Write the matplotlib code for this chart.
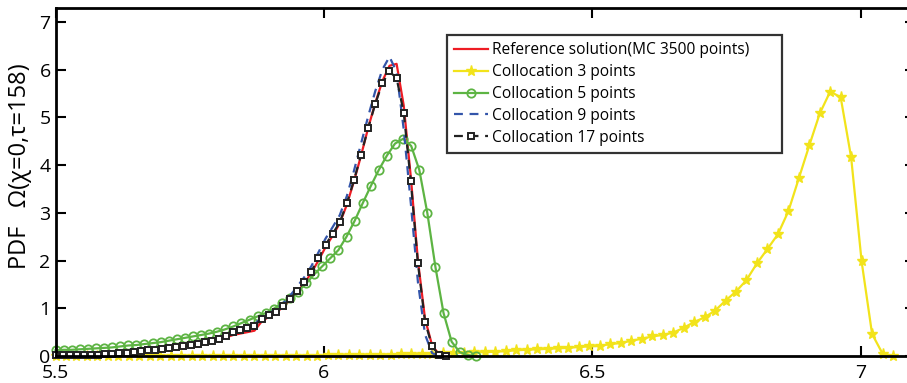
import numpy as np
import matplotlib.pyplot as plt

x_ref = np.linspace(5.5, 6.228, 56)
x_c17 = np.linspace(5.5, 6.228, 56)
x_c9 = np.linspace(5.5, 6.228, 56)
x_c5 = np.linspace(5.5, 6.283, 53)
x_c3 = np.linspace(5.5, 7.06, 81)

y_c17 = [0.02, 0.02, 0.02, 0.03, 0.03, 0.03, 0.03, 0.04, 0.05, 0.06,
         0.07, 0.09, 0.10, 0.12, 0.13, 0.15, 0.17, 0.19, 0.21, 0.23,
         0.26, 0.29, 0.32, 0.36, 0.42, 0.50, 0.54, 0.58, 0.63, 0.78,
         0.85, 0.93, 1.04, 1.19, 1.37, 1.55, 1.77, 2.05, 2.33, 2.56,
         2.80, 3.20, 3.68, 4.22, 4.78, 5.28, 5.72, 5.96, 5.82, 5.10,
         3.66, 1.94, 0.72, 0.20, 0.02, 0.00]

y_ref = [0.01, 0.01, 0.01, 0.02, 0.02, 0.02, 0.03, 0.04, 0.05, 0.06,
         0.07, 0.08, 0.09, 0.11, 0.12, 0.14, 0.16, 0.18, 0.20, 0.22,
         0.25, 0.28, 0.31, 0.35, 0.39, 0.44, 0.47, 0.50, 0.53, 0.72,
         0.82, 0.91, 1.02, 1.17, 1.34, 1.52, 1.74, 2.00, 2.28, 2.52,
         2.78, 3.17, 3.66, 4.20, 4.78, 5.30, 5.76, 6.08, 6.12, 5.25,
         3.75, 2.00, 0.78, 0.22, 0.03, 0.00]

y_c9 = [0.02, 0.02, 0.02, 0.03, 0.03, 0.03, 0.03, 0.04, 0.05, 0.06,
        0.07, 0.09, 0.10, 0.12, 0.13, 0.15, 0.17, 0.19, 0.21, 0.24,
        0.27, 0.30, 0.33, 0.37, 0.43, 0.51, 0.56, 0.60, 0.66, 0.81,
        0.89, 0.98, 1.10, 1.26, 1.45, 1.65, 1.88, 2.17, 2.46, 2.70,
        2.95, 3.35, 3.88, 4.45, 5.02, 5.55, 6.00, 6.27, 5.95, 4.75,
        3.20, 1.55, 0.45, 0.06, 0.00, 0.00]

y_c5 = [0.12, 0.13, 0.13, 0.14, 0.15, 0.16, 0.17, 0.18, 0.20, 0.22,
        0.23, 0.25, 0.27, 0.29, 0.32, 0.35, 0.38, 0.41, 0.44, 0.47,
        0.51, 0.56, 0.62, 0.69, 0.76, 0.83, 0.90, 0.99, 1.10, 1.22,
        1.35, 1.52, 1.71, 1.88, 2.05, 2.22, 2.50, 2.83, 3.20, 3.56,
        3.90, 4.20, 4.45, 4.55, 4.40, 3.90, 2.99, 1.86, 0.90, 0.30,
        0.08, 0.02, 0.00]

y_c3 = [0.00, 0.00, 0.00, 0.00, 0.00, 0.00, 0.00, 0.00, 0.00, 0.00,
        0.00, 0.00, 0.00, 0.00, 0.00, 0.00, 0.01, 0.01, 0.01, 0.01,
        0.01, 0.01, 0.01, 0.01, 0.01, 0.01, 0.02, 0.02, 0.02, 0.02,
        0.03, 0.03, 0.03, 0.04, 0.04, 0.04, 0.05, 0.06, 0.06, 0.07,
        0.08, 0.08, 0.09, 0.10, 0.12, 0.13, 0.14, 0.15, 0.16, 0.17,
        0.19, 0.20, 0.21, 0.25, 0.27, 0.32, 0.36, 0.41, 0.44, 0.49,
        0.59, 0.71, 0.81, 0.95, 1.16, 1.35, 1.59, 1.94, 2.24, 2.55,
        3.03, 3.72, 4.41, 5.08, 5.54, 5.42, 4.16, 1.98, 0.46, 0.05,
        0.00]

labels = ["Reference solution(MC 3500 points)", "Collocation 3 points",
          "Collocation 5 points", "Collocation 9 points", "Collocation 17 points"]

plt.rcParams['font.family'] = ['Open Sans', 'DejaVu Sans']

fig = plt.figure(figsize=(9.07, 3.83), dpi=100)
ax = fig.add_axes([55.5 / 907, 27 / 383, 859 / 907, 348 / 383])

ax.plot(x_ref, y_ref, color="#ee1c24", lw=1.6, label=labels[0], clip_on=False)
ax.plot(x_c3, y_c3, color="#f2e31b", lw=1.6, marker="*", ms=8,
        label=labels[1], clip_on=False)
ax.plot(x_c5, y_c5, color="#5db443", lw=1.6, marker="o", ms=6, mfc="none",
        mew=1.3, label=labels[2], clip_on=False)
ax.plot(x_c9, y_c9, color="#3355aa", lw=1.6, ls=(0, (4, 3)),
        label=labels[3], clip_on=False)
ax.plot(x_c17, y_c17, color="#222222", lw=1.6, ls=(0, (4, 3)), marker="s",
        ms=5, mfc="white", mec="#222222", mew=1.4, label=labels[4],
        clip_on=False)

ax.set_xlim(5.5, 7.1)
ax.set_ylim(0, 7.29)
ax.set_xticks([5.5, 6, 6.5, 7])
ax.set_xticklabels(["5.5", "6", "6.5", "7"])
ax.set_yticks(range(8))
ax.tick_params(direction="in", length=7, width=1.5, labelsize=14,
               top=True, right=True)
ax.tick_params(axis="x", pad=6)
for s in ax.spines.values():
    s.set_linewidth(2)

ax.set_ylabel("PDF   \u03a9(\u03c7=0,\u03c4=158)", fontsize=17)
ax.yaxis.set_label_coords(-0.027, 0.546)

leg = ax.legend(loc="upper left", bbox_to_anchor=(0.456, 0.5, 0.39, 0.422),
                mode="expand", fontsize=11.2, frameon=True, fancybox=False,
                handlelength=2.2, handletextpad=0.2, borderpad=0.45,
                labelspacing=0.38, borderaxespad=0)
leg.get_frame().set_edgecolor("black")
leg.get_frame().set_linewidth(1.6)

fig.savefig("out.png", dpi=100)
